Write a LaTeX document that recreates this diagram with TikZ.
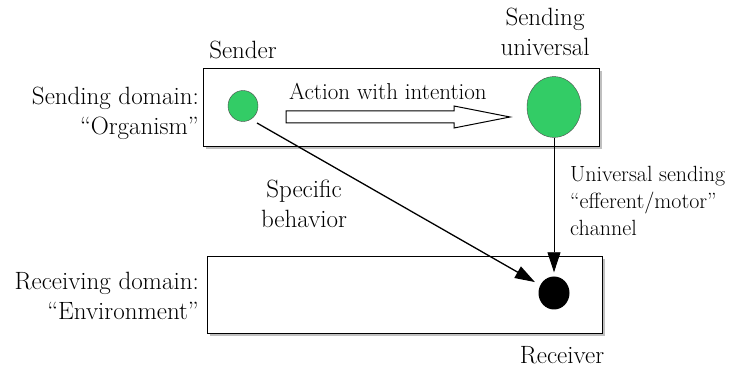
\documentclass[tikz,border=0pt]{standalone}
\usepackage{fontspec}
\usetikzlibrary{shapes.geometric,shadows,arrows.meta}
\definecolor{dotgreen}{RGB}{51,204,102}
\tikzset{
  domainbox/.style={draw,fill=white,line width=1pt,inner sep=0pt,
    general shadow={fill=black!25,shadow xshift=2.5pt,shadow yshift=-2.5pt}},
  dot/.style={ellipse,draw=black!70,inner sep=0pt},
  lbl/.style={font=\fontsize{25}{30}\selectfont,inner sep=0pt},
  smalllbl/.style={lbl,font=\fontsize{22}{27}\selectfont},
  tip/.style={-{Triangle[length=20pt,width=13pt]},shorten >=4pt}
}
\begin{document}
\begin{tikzpicture}[x=1pt,y=-1pt]
\useasboundingbox (0,0) rectangle (729,371);
\node[domainbox,minimum width=396pt,minimum height=78pt] (organism) at (401,108) {};
\node[domainbox,minimum width=395pt,minimum height=77pt] (environment) at (404.5,295.5) {};
\node[dot,fill=dotgreen,minimum width=30pt,minimum height=31pt] (sender) at (243,106) {};
\node[dot,fill=dotgreen,minimum width=54pt,minimum height=61pt] (universal) at (554,107) {};
\node[ellipse,fill=black,inner sep=0pt,minimum width=31pt,minimum height=33pt] (receiver) at (554,293) {};
\node[lbl,align=right,anchor=east] (orglbl) at (199,113) {Sending domain:\\“Organism”};
\node[lbl,align=right,anchor=east] (envlbl) at (199,296) {Receiving domain:\\“Environment”};
\node[lbl] (senderlbl) at (243,50) {Sender};
\node[lbl,align=center] (universallbl) at (545,32) {Sending\\universal};
\node[lbl,font=\fontsize{23}{27}\selectfont,anchor=base west] (actionlbl) at (289,100) {Action with intention};
\node[lbl,align=center] (behaviorlbl) at (304,204) {Specific\\behavior};
\node[smalllbl,align=left,anchor=west] (channellbl) at (570,201) {Universal sending\\“efferent/motor”\\channel};
\node[lbl] (receiverlbl) at (562,355) {Receiver};
% hollow action arrow
\draw[line width=1pt,fill=white] (286,111) -- (454,111) -- (454,106) -- (510,117)
  -- (454,128) -- (454,123) -- (286,123) -- cycle;
\coordinate (behstart) at (257,123);
\draw[tip,line width=1.3pt,shorten >=6pt] (behstart) -- (receiver);
\draw[tip,line width=0.8pt] (universal.south) -- (receiver.north);
\end{tikzpicture}
\end{document}
